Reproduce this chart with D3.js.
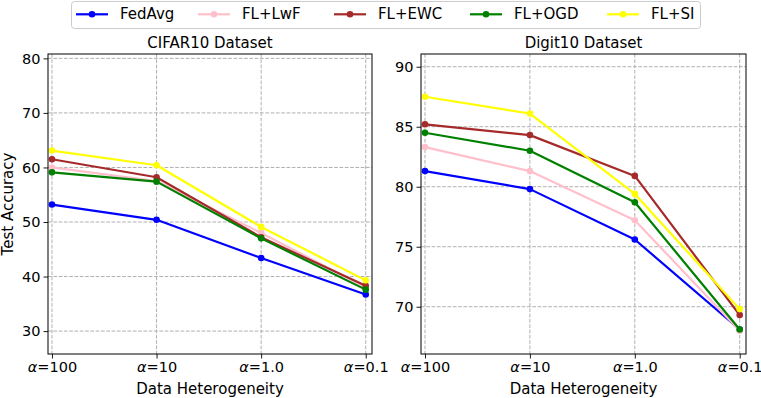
<!DOCTYPE html>
<html>
<head>
<meta charset="utf-8">
<script src="https://cdn.jsdelivr.net/npm/d3@7"></script>
<style>
  body { margin: 0; background: #fff; }
  svg { font-family: "DejaVu Sans", sans-serif; }
</style>
</head>
<body>
<svg id="chart" width="761" height="398"></svg>
<script>
'use strict'

// categories on the x axis
const alphas = ['100', '10', '1.0', '0.1']

// series names and colours
const methods = ['FedAvg', 'FL+LwF', 'FL+EWC', 'FL+OGD', 'FL+SI']
const colors = ['blue', 'pink', 'brown', 'green', 'yellow']

// test accuracy
const cifarFedAvg = [53.2, 50.4, 43.4, 36.7]
const cifarLwF = [60.0, 57.5, 48.0, 38.0]
const cifarEWC = [61.5, 58.2, 47.2, 38.3]
const cifarOGD = [59.1, 57.4, 47.0, 37.6]
const cifarSI = [63.1, 60.4, 49.1, 39.3]

const digitFedAvg = [81.3, 79.8, 75.6, 68.1]
const digitLwF = [83.3, 81.3, 77.2, 68.0]
const digitEWC = [85.2, 84.3, 80.9, 69.3]
const digitOGD = [84.5, 83.0, 78.7, 68.1]
const digitSI = [87.5, 86.1, 79.4, 69.8]

const cifarTicks = [30, 40, 50, 60, 70, 80]
const digitTicks = [70, 75, 80, 85, 90]

const svg = d3.select('#chart')
const fontSize = 15, tickFont = 14.5

function panel(opts) {
    let x = d3.scaleLinear().domain([-0.038, 3.06]).range([opts.left, opts.right])
    let y = d3.scaleLinear().domain(opts.yDomain).range([354, 54])
    let g = svg.append('g')

    // grid
    g.append('g').selectAll('line').data(alphas).enter().append('line')
        .attr('x1', (d, i) => x(i)).attr('x2', (d, i) => x(i))
        .attr('y1', 54).attr('y2', 354)
        .attr('stroke', '#b0b0b0').attr('stroke-width', 1).attr('stroke-dasharray', '3.7,1.6')
    g.append('g').selectAll('line').data(opts.ticks).enter().append('line')
        .attr('x1', opts.left).attr('x2', opts.right)
        .attr('y1', d => y(d)).attr('y2', d => y(d))
        .attr('stroke', '#b0b0b0').attr('stroke-width', 1).attr('stroke-dasharray', '3.7,1.6')

    // axes
    let yAxis = g.append('g').attr('transform', `translate(${opts.left},0)`)
        .call(d3.axisLeft(y).tickValues(opts.ticks).tickSize(4.5).tickPadding(3))
    let xAxis = g.append('g').attr('transform', 'translate(0,354)')
        .call(d3.axisBottom(x).tickValues([0, 1, 2, 3]).tickSize(4.5).tickPadding(3).tickFormat(() => ''))
    yAxis.select('.domain').remove()
    xAxis.select('.domain').remove()
    g.selectAll('.tick line').attr('stroke', '#000').attr('stroke-width', 0.9)
    yAxis.selectAll('.tick text').attr('font-size', tickFont).attr('font-family', 'DejaVu Sans').attr('fill', '#000')

    xAxis.selectAll('.tick text').each(function(d) {
        let t = d3.select(this).attr('font-size', tickFont).attr('font-family', 'DejaVu Sans').attr('fill', '#000')
        t.append('tspan').attr('font-style', 'italic').text('α')
        t.append('tspan').text('=' + alphas[d])
    })

    // lines
    let line = d3.line().x((d, i) => x(i)).y(d => y(d))
    opts.series.forEach((s, k) => {
        g.append('path').datum(s).attr('d', line)
            .attr('fill', 'none').attr('stroke', colors[k]).attr('stroke-width', 2.2)
            .attr('stroke-linejoin', 'round')
        g.append('g').selectAll('circle').data(s).enter().append('circle')
            .attr('cx', (d, i) => x(i)).attr('cy', d => y(d)).attr('r', 3.3)
            .attr('fill', colors[k])
    })

    // frame
    g.append('rect').attr('x', opts.left).attr('y', 54)
        .attr('width', opts.right - opts.left).attr('height', 300)
        .attr('fill', 'none').attr('stroke', '#000').attr('stroke-width', 1)

    let cx = (opts.left + opts.right) / 2
    g.append('text').attr('transform', `translate(${cx},47.5) scale(1,1.07)`).attr('text-anchor', 'middle')
        .attr('font-size', fontSize).text(opts.title)
    g.append('text').attr('x', cx).attr('y', 394).attr('text-anchor', 'middle')
        .attr('font-size', fontSize).text('Data Heterogeneity')
}

panel({ left: 48, right: 372, yDomain: [25.8, 80.8], ticks: cifarTicks, title: 'CIFAR10 Dataset',
    series: [cifarFedAvg, cifarLwF, cifarEWC, cifarOGD, cifarSI] })
panel({ left: 421, right: 746, yDomain: [66.06, 91.06], ticks: digitTicks, title: 'Digit10 Dataset',
    series: [digitFedAvg, digitLwF, digitEWC, digitOGD, digitSI] })

svg.append('text').attr('transform', 'translate(13,204) rotate(-90)').attr('text-anchor', 'middle')
    .attr('font-size', fontSize).text('Test Accuracy')

// legend
let legend = svg.append('g')
legend.append('rect').attr('x', 71.5).attr('y', 1.5).attr('width', 629).attr('height', 27).attr('rx', 3)
    .attr('fill', '#fff').attr('stroke', '#cccccc').attr('stroke-width', 1)
let itemX = [76, 198, 334, 470, 607]
let item = legend.selectAll('g.item').data(methods).enter().append('g').attr('class', 'item')
    .attr('transform', (d, i) => `translate(${itemX[i]},14.3)`)
item.append('line').attr('x1', 0).attr('x2', 32).attr('stroke', (d, i) => colors[i]).attr('stroke-width', 2.2)
item.append('circle').attr('cx', 16).attr('r', 3.3).attr('fill', (d, i) => colors[i])
item.append('text').attr('transform', 'translate(44,4.7) scale(1,1.07)').attr('font-size', fontSize).text(d => d)
</script>
</body>
</html>
